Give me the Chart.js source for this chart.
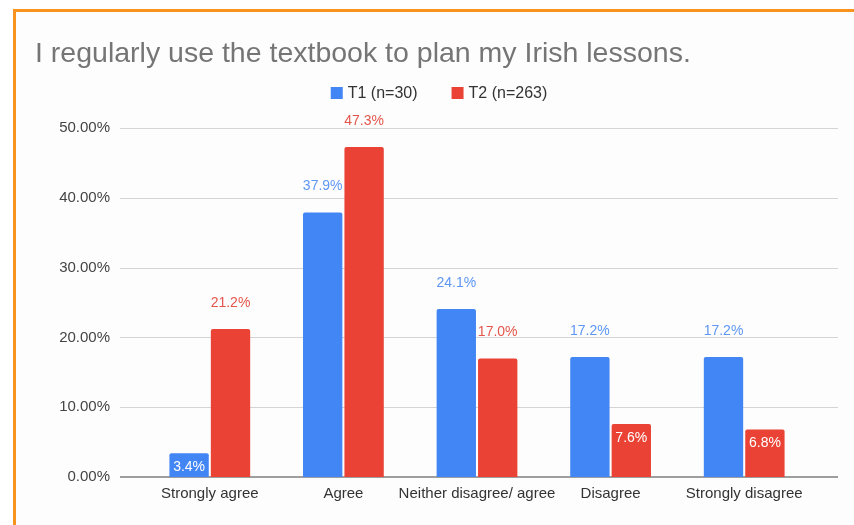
<!DOCTYPE html>
<html>
<head>
<meta charset="utf-8">
<script src="https://cdn.jsdelivr.net/npm/chart.js@4"></script>
<style>
  html, body { margin: 0; padding: 0; background: #fff; }
  body { width: 854px; height: 525px; position: relative; overflow: hidden; }
  .frame {
    position: absolute; left: 13px; top: 9px; right: 0; bottom: 0;
    border-top: 3px solid #f7931e; border-left: 3px solid #f7931e;
    background: #fdfdfd;
  }
  .box { position: absolute; left: 16px; top: 12px; width: 838px; height: 513px; }
</style>
</head>
<body>
<div class="frame"></div>
<div class="box"><canvas id="chart"></canvas></div>
<script>
const categories = ['Strongly agree', 'Agree', 'Neither disagree/ agree', 'Disagree', 'Strongly disagree'];
const t1Values = [3.4, 37.9, 24.1, 17.2, 17.2];
const t2Values = [21.2, 47.3, 17.0, 7.6, 6.8];
const seriesNames = ['T1 (n=30)', 'T2 (n=263)'];
const yTicks = [0, 10, 20, 30, 40, 50];

const FONT = '"Liberation Sans", Arial, sans-serif';
const labelColors = ['#5e97f2', '#e4564b'];

// horizontal grid lines run a bit past the bar area on both sides
const gridLines = {
    id: 'gridLines',
    beforeDatasetsDraw(chart) {
        const { ctx, chartArea, scales } = chart;
        ctx.save();
        yTicks.forEach(v => {
            const y = Math.round(scales.y.getPixelForValue(v));
            ctx.beginPath();
            ctx.strokeStyle = v === 0 ? '#9e9e9e' : '#d4d4d4';
            ctx.lineWidth = v === 0 ? 2 : 1;
            const yy = v === 0 ? y : y + 0.5;
            ctx.moveTo(chartArea.left - 23, yy);
            ctx.lineTo(chartArea.right + 27, yy);
            ctx.stroke();
        });
        ctx.restore();
    }
};

// value labels: above the bar, or inside (white) when the bar is short
const barLabels = {
    id: 'barLabels',
    afterDatasetsDraw(chart) {
        const ctx = chart.ctx;
        ctx.save();
        ctx.font = '14px ' + FONT;
        ctx.textAlign = 'center';
        ctx.textBaseline = 'middle';
        chart.data.datasets.forEach((ds, i) => {
            chart.getDatasetMeta(i).data.forEach((bar, j) => {
                const v = ds.data[j];
                const txt = v.toFixed(1) + '%';
                if (v < 10) {
                    ctx.fillStyle = '#fff';
                    ctx.fillText(txt, bar.x, bar.y + 14);
                } else {
                    ctx.fillStyle = labelColors[i];
                    ctx.fillText(txt, bar.x, bar.y - 26);
                }
            });
        });
        ctx.restore();
    }
};

// simple legend row under the title
const legendRow = {
    id: 'legendRow',
    afterDraw(chart) {
        const ctx = chart.ctx;
        const box = 12, gap = 5, spacing = 34, y = 81;
        ctx.save();
        ctx.font = '16px ' + FONT;
        ctx.textBaseline = 'middle';
        const items = chart.data.datasets.map(ds => ({
            text: ds.label,
            color: ds.backgroundColor,
            w: box + gap + ctx.measureText(ds.label).width
        }));
        const total = items.reduce((s, it) => s + it.w, 0) + spacing * (items.length - 1);
        let x = chart.width / 2 + 4 - total / 2;
        items.forEach(it => {
            ctx.fillStyle = it.color;
            ctx.fillRect(x, y - box / 2, box, box);
            ctx.fillStyle = '#333';
            ctx.fillText(it.text, x + box + gap, y + 1);
            x += it.w + spacing;
        });
        ctx.restore();
    }
};

new Chart(document.getElementById('chart'), {
    type: 'bar',
    data: {
        labels: categories,
        datasets: [{
            label: seriesNames[0],
            data: t1Values,
            backgroundColor: '#4285f4',
            borderRadius: 2,
            borderSkipped: 'bottom'
        }, {
            label: seriesNames[1],
            data: t2Values,
            backgroundColor: '#ea4335',
            borderRadius: 2,
            borderSkipped: 'bottom'
        }]
    },
    options: {
        responsive: true,
        maintainAspectRatio: false,
        animation: false,
        layout: { padding: { top: 14, left: 19, right: 43, bottom: 14 } },
        datasets: { bar: { categoryPercentage: 0.62, barPercentage: 0.95 } },
        plugins: {
            title: {
                display: true,
                text: 'I regularly use the textbook to plan my Irish lessons.',
                align: 'start',
                color: '#757575',
                font: { family: FONT, size: 28.5, weight: 'normal' },
                padding: { top: 11, bottom: 57 }
            },
            legend: { display: false },
            tooltip: { enabled: false }
        },
        scales: {
            x: {
                grid: { display: false, drawTicks: false },
                border: { display: false },
                ticks: {
                    color: '#333',
                    font: { family: FONT, size: 15 },
                    padding: 8,
                    maxRotation: 0,
                    autoSkip: false
                }
            },
            y: {
                min: 0,
                max: 50,
                afterFit(s) { s.width = 108; },
                afterBuildTicks(s) { s.ticks = yTicks.map(v => ({ value: v })); },
                grid: { display: false, drawTicks: false },
                border: { display: false },
                ticks: {
                    color: '#444',
                    font: { family: FONT, size: 15 },
                    padding: 33,
                    callback: v => v.toFixed(2) + '%'
                }
            }
        }
    },
    plugins: [gridLines, barLabels, legendRow]
});
</script>
</body>
</html>
